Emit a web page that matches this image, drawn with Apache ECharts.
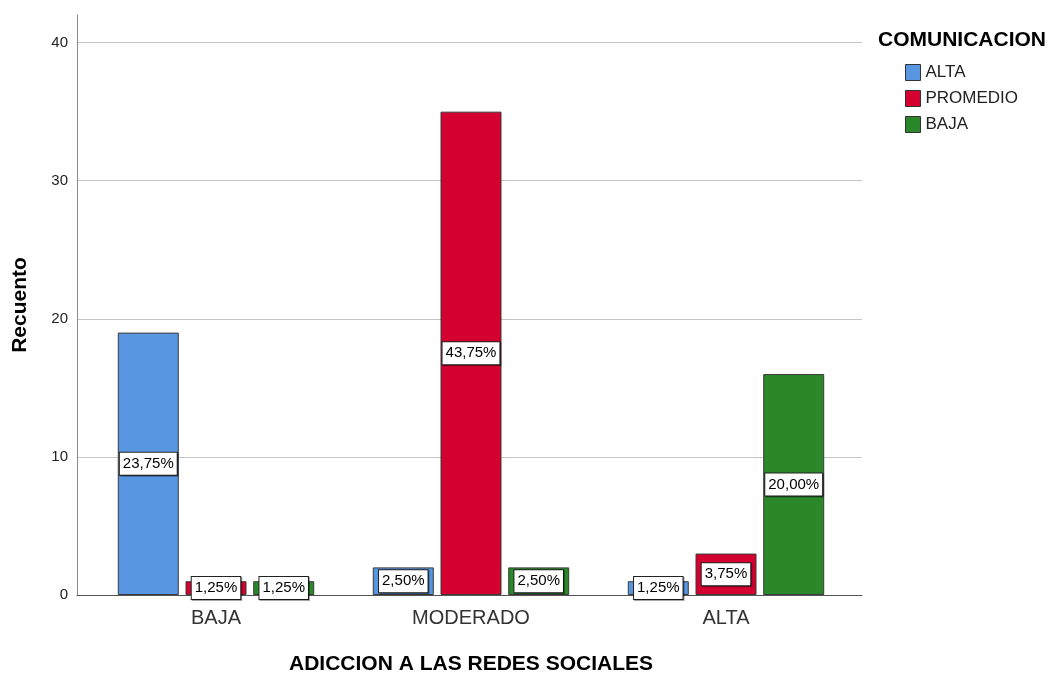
<!DOCTYPE html>
<html>
<head>
<meta charset="utf-8">
<script src="https://cdn.jsdelivr.net/npm/echarts@6/dist/echarts.min.js"></script>
<style>
html,body{margin:0;padding:0;background:#fff;}
#chart{width:1056px;height:674px;}
</style>
</head>
<body>
<div id="chart"></div>
<script>
var categories = ['BAJA', 'MODERADO', 'ALTA'];
var seriesNames = ['ALTA', 'PROMEDIO', 'BAJA'];
var altaValues = [19, 2, 1];
var promedioValues = [1, 35, 3];
var bajaValues = [1, 2, 16];
var altaLabels = ['23,75%', '2,50%', '1,25%'];
var promedioLabels = ['1,25%', '43,75%', '3,75%'];
var bajaLabels = ['1,25%', '2,50%', '20,00%'];
var yTicks = [0, 10, 20, 30, 40];

var FONT = '"Liberation Sans", Arial, sans-serif';
var colors = ['#5896e2', '#d4002f', '#2a872a'];
var values = [altaValues, promedioValues, bajaValues];
var labels = [altaLabels, promedioLabels, bajaLabels];

var chart = echarts.init(document.getElementById('chart'));

var series = seriesNames.map(function (name, i) {
  return {
    name: name,
    type: 'bar',
    xAxisIndex: 1,
    yAxisIndex: 1,
    barWidth: 61,
    barGap: '11%',
    data: values[i],
    itemStyle: { color: colors[i], borderColor: '#3a3a3a', borderWidth: 1 },
    label: {
      show: true,
      position: 'inside',
      formatter: function (p) { return labels[i][p.dataIndex]; },
      fontFamily: FONT,
      fontSize: 15,
      color: '#000',
      backgroundColor: '#fff',
      borderColor: '#222',
      borderWidth: 1,
      padding: [4, 3, 3, 3],
      shadowColor: 'rgba(0,0,0,0.35)',
      shadowOffsetX: 1,
      shadowOffsetY: 1
    },
    emphasis: { disabled: true },
    animation: false
  };
});

chart.setOption({
  animation: false,
  backgroundColor: '#fff',
  title: {
    text: 'COMUNICACION',
    left: 873,
    top: 25,
    textStyle: { fontFamily: FONT, fontSize: 21, fontWeight: 'bold', color: '#000' }
  },
  legend: {
    data: seriesNames,
    orient: 'vertical',
    left: 900,
    top: 59,
    itemWidth: 15,
    itemHeight: 16,
    itemGap: 9,
    icon: 'rect',
    selectedMode: false,
    itemStyle: { borderColor: '#333', borderWidth: 1 },
    textStyle: { fontFamily: FONT, fontSize: 17, color: '#222', padding: [0, 0, 0, 0] }
  },
  grid: [
    { left: 77, right: 194, top: 15, bottom: 79, outerBoundsMode: 'none', containLabel: false },
    { left: 88.5, right: 202.5, top: 15, bottom: 79, outerBoundsMode: 'none', containLabel: false }
  ],
  xAxis: [
    {
      type: 'value', gridIndex: 0, min: 0, max: 1,
      axisLine: { show: true, lineStyle: { color: '#555', width: 1 } },
      axisTick: { show: false }, axisLabel: { show: false }, splitLine: { show: false }
    },
    {
      type: 'category', gridIndex: 1, data: categories,
      axisLine: { show: false }, axisTick: { show: false },
      axisLabel: { fontFamily: FONT, fontSize: 20, color: '#333', margin: 13 },
      name: 'ADICCION A LAS REDES SOCIALES',
      nameLocation: 'middle',
      nameGap: 59,
      nameTextStyle: { fontFamily: FONT, fontSize: 21, fontWeight: 'bold', color: '#000' }
    }
  ],
  yAxis: [
    {
      type: 'value', gridIndex: 0, min: 0, max: 42, interval: 10,
      axisLine: { show: true, lineStyle: { color: '#888', width: 1 } },
      axisTick: { show: false },
      axisLabel: {
        fontFamily: FONT, fontSize: 15, color: '#222', margin: 9, showMaxLabel: false,
        formatter: function (v) { return yTicks.indexOf(v) >= 0 ? String(v) : ''; }
      },
      splitLine: { show: true, showMaxLine: false, lineStyle: { color: '#c4c4c4', width: 1 } },
      name: 'Recuento',
      nameLocation: 'middle',
      nameGap: 46,
      nameTextStyle: { fontFamily: FONT, fontSize: 21, fontWeight: 'bold', color: '#000' }
    },
    {
      type: 'value', gridIndex: 1, min: 0, max: 42, interval: 10,
      show: false, splitLine: { show: false }
    }
  ],
  series: series
});
</script>
</body>
</html>
